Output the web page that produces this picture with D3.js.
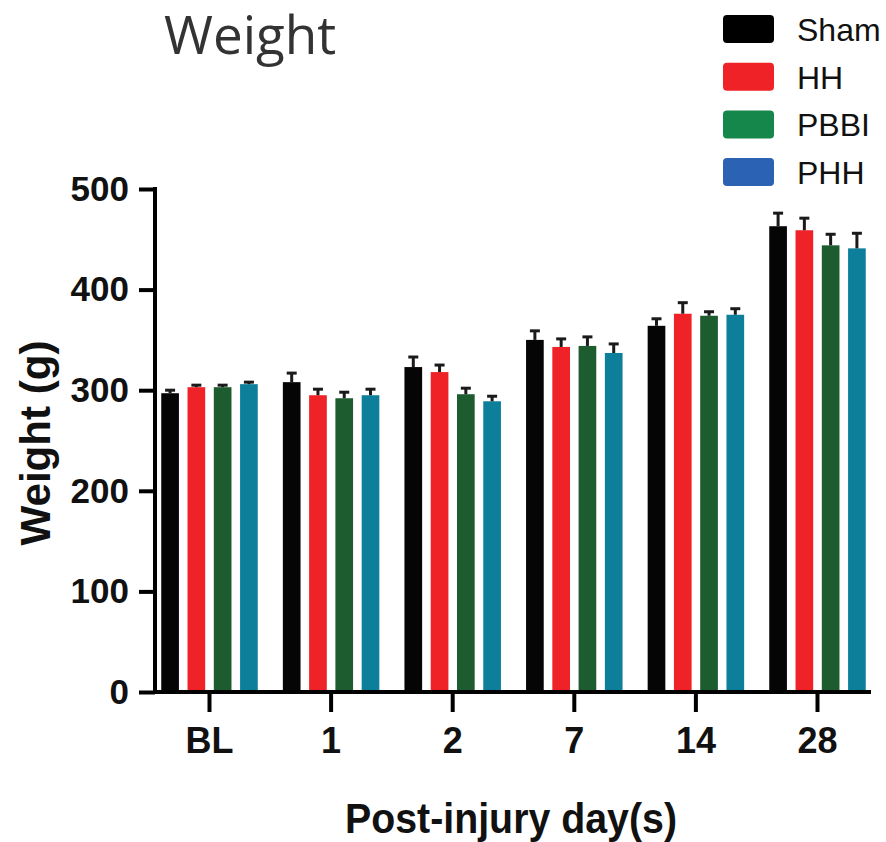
<!DOCTYPE html>
<html>
<head>
<meta charset="utf-8">
<script src="https://cdn.jsdelivr.net/npm/d3@7/dist/d3.min.js"></script>
<style>
  body { margin: 0; background: #fff; }
  svg { display: block; }
</style>
</head>
<body>
<div id="chart"></div>
<script>
// data
var days = ["BL", "1", "2", "7", "14", "28"];
var groups = ["Sham", "HH", "PBBI", "PHH"];
var sham = [297, 308, 323, 350, 364, 463];
var hh   = [303, 295, 318, 343, 376, 459];
var pbbi = [303, 292, 296, 344, 374, 444];
var phh  = [306, 295, 289, 337, 375, 441];
var shamErr = [3, 9, 10, 9, 7, 13];
var hhErr   = [2, 6, 7, 8, 11, 12];
var pbbiErr = [2, 6, 6, 9, 4, 11];
var phhErr  = [2, 6, 5, 9, 6, 15];
var yTicks = [0, 100, 200, 300, 400, 500];

var barColors = ["#050505", "#ee2227", "#1c5c2f", "#0e7f9b"];
var legendColors = ["#000000", "#ee2227", "#15874a", "#2b62b3"];

var values = [sham, hh, pbbi, phh];
var errs = [shamErr, hhErr, pbbiErr, phhErr];

var rows = [];
days.forEach(function(d, i) {
    groups.forEach(function(g, j) {
        rows.push({day: d, group: g, k: j, v: values[j][i], e: errs[j][i]});
    });
});

var W = 886, H = 842;
var svg = d3.select("#chart").append("svg")
    .attr("width", W).attr("height", H);

var x0 = d3.scaleBand().domain(days).range([148.7, 878.3]).padding(0);
var x1 = d3.scaleBand().domain(groups).range([-48.25, 48.25])
    .paddingInner(0.327).paddingOuter(0);
var y = d3.scaleLinear().domain([0, 500]).range([692, 189]);

var font = "'Liberation Sans', Arial, Helvetica, sans-serif";

// title
svg.append("text")
    .attr("x", 164).attr("y", 54)
    .attr("font-family", "'Open Sans', 'Noto Sans', sans-serif")
    .attr("font-size", 53)
    .attr("fill", "#333")
    .text("Weight");

// bars
svg.append("g").selectAll("rect")
    .data(rows).enter().append("rect")
    .attr("x", function(d) { return x0(d.day) + x0.bandwidth() / 2 + x1(d.group); })
    .attr("y", function(d) { return y(d.v); })
    .attr("width", x1.bandwidth())
    .attr("height", function(d) { return y(0) - y(d.v); })
    .attr("fill", function(d) { return barColors[d.k]; });

// error bars (upper only)
var eb = svg.append("g").attr("stroke", "#1a1a1a").attr("stroke-width", 3);
rows.forEach(function(d) {
    var cx = x0(d.day) + x0.bandwidth() / 2 + x1(d.group) + x1.bandwidth() / 2;
    eb.append("line")
        .attr("x1", cx).attr("x2", cx)
        .attr("y1", y(d.v)).attr("y2", y(d.v + d.e));
    eb.append("line")
        .attr("x1", cx - 5).attr("x2", cx + 5)
        .attr("y1", y(d.v + d.e)).attr("y2", y(d.v + d.e));
});

// y axis
var yAxis = d3.axisLeft(y).tickValues(yTicks).tickSize(16).tickPadding(10);
var gy = svg.append("g")
    .attr("transform", "translate(155,0)")
    .call(yAxis);
gy.select(".domain").remove();
gy.append("line").attr("x1", 0).attr("x2", 0)
    .attr("y1", y(500) - 2).attr("y2", y(0) + 2)
    .attr("stroke", "#000").attr("stroke-width", 4);
gy.selectAll(".tick line").attr("stroke", "#000").attr("stroke-width", 4);
gy.selectAll(".tick text")
    .attr("font-family", font).attr("font-weight", "bold")
    .attr("font-size", 35).attr("fill", "#111");

// x axis
var xAxis = d3.axisBottom(x0).tickSize(20).tickPadding(15);
var gx = svg.append("g")
    .attr("transform", "translate(0," + y(0) + ")")
    .call(xAxis);
gx.select(".domain").remove();
gx.append("line").attr("x1", 153).attr("x2", 871)
    .attr("y1", 0).attr("y2", 0)
    .attr("stroke", "#000").attr("stroke-width", 4);
gx.selectAll(".tick line").attr("stroke", "#000").attr("stroke-width", 4);
gx.selectAll(".tick text")
    .attr("font-family", font).attr("font-weight", "bold")
    .attr("font-size", 36).attr("fill", "#111");

// axis titles
svg.append("text")
    .attr("transform", "translate(50,443) rotate(-90)")
    .attr("text-anchor", "middle")
    .attr("font-family", font).attr("font-weight", "bold")
    .attr("font-size", 42).attr("fill", "#111")
    .attr("textLength", 205).attr("lengthAdjust", "spacingAndGlyphs")
    .text("Weight (g)");

svg.append("text")
    .attr("x", 511).attr("y", 833)
    .attr("text-anchor", "middle")
    .attr("font-family", font).attr("font-weight", "bold")
    .attr("font-size", 42).attr("fill", "#111")
    .attr("textLength", 332).attr("lengthAdjust", "spacingAndGlyphs")
    .text("Post-injury day(s)");

// legend
var lg = svg.append("g").selectAll("g")
    .data(groups).enter().append("g")
    .attr("transform", function(d, i) { return "translate(723," + (15 + i * 47.7) + ")"; });
lg.append("rect")
    .attr("width", 51).attr("height", 28).attr("rx", 4)
    .attr("fill", function(d, i) { return legendColors[i]; });
lg.append("text")
    .attr("x", 74).attr("y", 26)
    .attr("font-family", font)
    .attr("font-size", 32).attr("fill", "#111")
    .text(function(d) { return d; });
</script>
</body>
</html>
